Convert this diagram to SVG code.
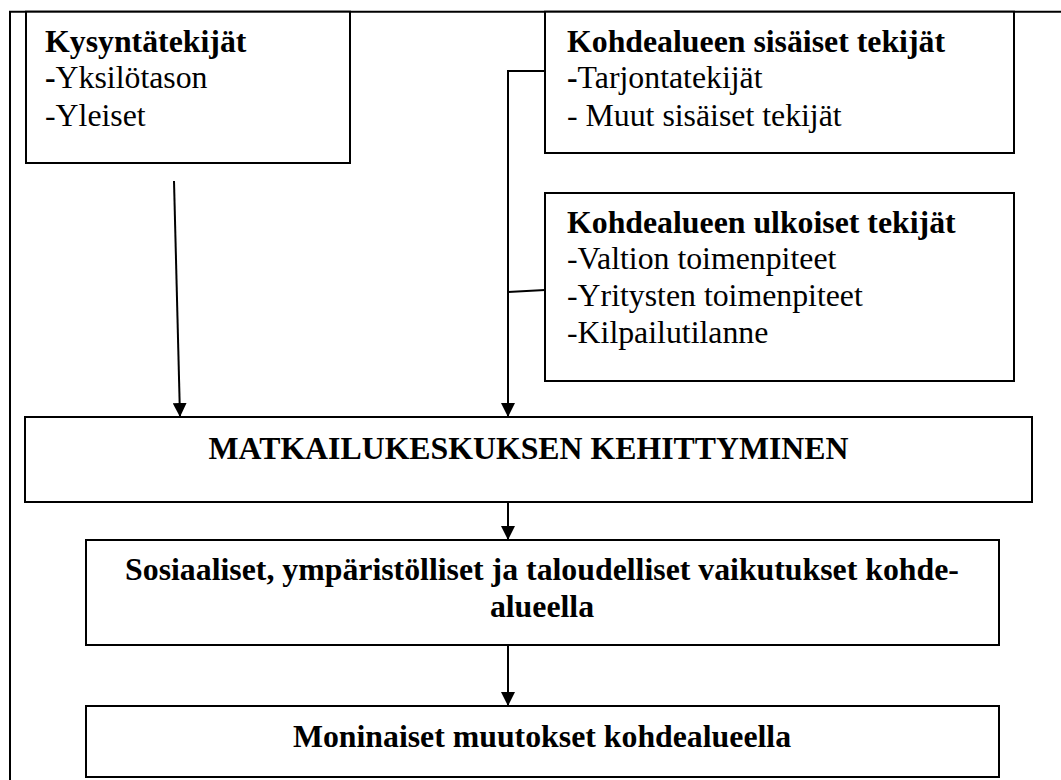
<svg xmlns="http://www.w3.org/2000/svg" width="1061" height="780" viewBox="0 0 1061 780">
<style>
.box{fill:#fff;stroke:#000;stroke-width:2}
.con{fill:none;stroke:#000;stroke-width:2}
text{font-family:"Liberation Serif","Times New Roman",Times,"DejaVu Serif",serif;font-size:31.8px;fill:#000}
.b{font-weight:bold}
.c{text-anchor:middle}
</style>
<defs>
<marker id="arr" markerUnits="userSpaceOnUse" markerWidth="14" markerHeight="14" refX="14" refY="7" orient="auto" viewBox="0 0 14 14">
<path d="M0,0 L14,7 L0,14 z" fill="#000"/>
</marker>
</defs>
<rect width="1061" height="780" fill="#fff"/>
<path d="M10,780 V11.7 H1061" fill="none" stroke="#000" stroke-width="2"/>
<g id="connectors">
<line class="con" x1="174" y1="181" x2="180" y2="417" marker-end="url(#arr)"/>
<path class="con" d="M545,71 H508 V417" marker-end="url(#arr)"/>
<line class="con" x1="545" y1="290" x2="508" y2="292"/>
<line class="con" x1="508" y1="494" x2="508" y2="540" marker-end="url(#arr)"/>
<line class="con" x1="508" y1="645" x2="508" y2="706" marker-end="url(#arr)"/>
</g>
<g id="kysynta">
<rect class="box" x="26" y="11.7" width="324" height="151.3"/>
<text x="45" y="51.7" class="b">Kysyntätekijät</text>
<text x="45" y="88.3"><tspan class="b">-</tspan>Yksilötason</text>
<text x="45" y="125.5">-Yleiset</text>
</g>
<g id="sisaiset">
<rect class="box" x="545" y="11.7" width="469" height="141.3"/>
<text x="567" y="51.7" class="b">Kohdealueen sisäiset tekijät</text>
<text x="567" y="88.3"><tspan class="b">-</tspan>Tarjontatekijät</text>
<text x="567" y="125.5">- Muut sisäiset tekijät</text>
</g>
<g id="ulkoiset">
<rect class="box" x="545" y="193" width="469" height="188"/>
<text x="567" y="232.5" class="b">Kohdealueen ulkoiset tekijät</text>
<text x="567" y="268.5">-Valtion toimenpiteet</text>
<text x="567" y="305.5">-Yritysten toimenpiteet</text>
<text x="567" y="342.5">-Kilpailutilanne</text>
</g>
<g id="kehittyminen">
<rect class="box" x="25" y="417" width="1007" height="85"/>
<text x="528.5" y="459" class="b c">MATKAILUKESKUKSEN KEHITTYMINEN</text>
</g>
<g id="vaikutukset">
<rect class="box" x="86" y="540" width="913" height="105"/>
<text x="542" y="580" class="b c">Sosiaaliset, ympäristölliset ja taloudelliset vaikutukset kohde-</text>
<text x="542" y="617" class="b c">alueella</text>
</g>
<g id="muutokset">
<rect class="box" x="86" y="706" width="913" height="71"/>
<text x="542" y="747" class="b c">Moninaiset muutokset kohdealueella</text>
</g>
</svg>
